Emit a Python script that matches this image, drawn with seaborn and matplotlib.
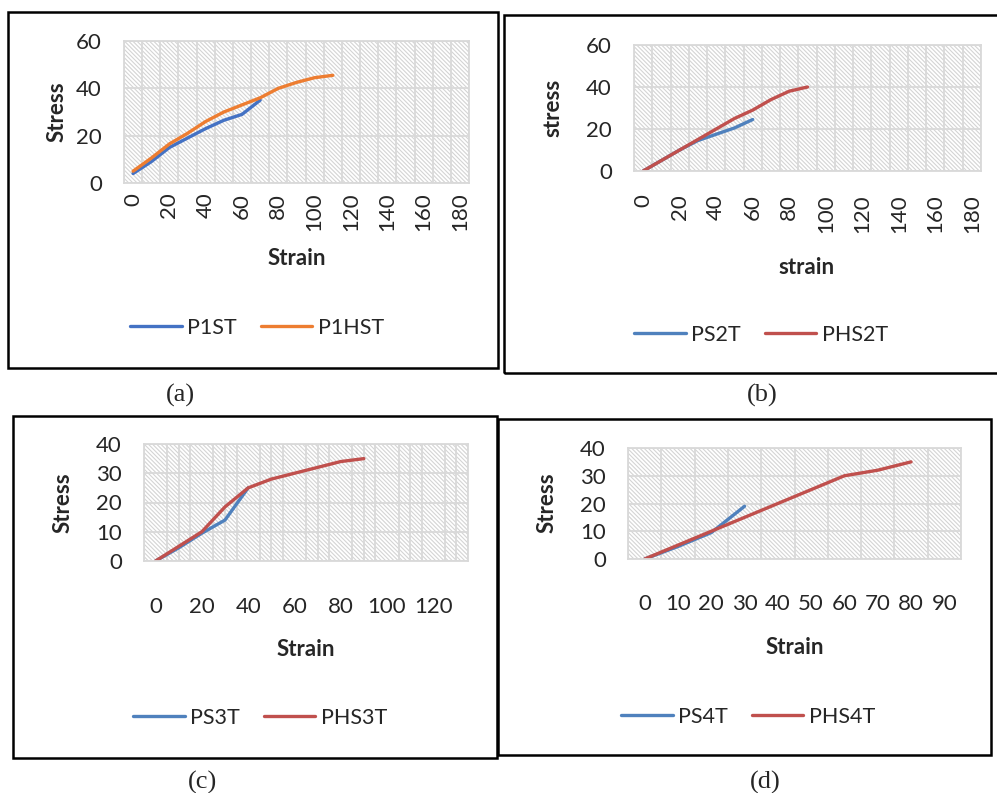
import numpy as np
import pandas as pd
import matplotlib.pyplot as plt
from matplotlib.patches import Rectangle
import seaborn as sns

sns.set_style("white")
plt.rcParams["font.family"] = ["Lato", "DejaVu Sans"]
plt.rcParams["hatch.linewidth"] = 0.8

W, H = 997, 793

# --- data ---
strain_a1 = [0, 10, 20, 30, 40, 50, 60, 70]
p1st = [4, 9, 15, 19, 23, 26.5, 29, 35]
strain_a2 = [0, 10, 20, 30, 40, 50, 60, 70, 80, 90, 100, 110]
p1hst = [5, 10.5, 16.5, 21, 26, 30, 33, 36, 40, 42.5, 44.5, 45.5]

strain_b1 = [0, 10, 20, 30, 40, 50, 60]
ps2t = [0, 5, 10, 14.5, 17.5, 20.5, 24.5]
strain_b2 = [0, 10, 20, 30, 40, 50, 60, 70, 80, 90]
phs2t = [0, 5, 10, 15, 20, 25, 29, 34, 38, 40]

strain_c1 = [0, 10, 20, 30, 40]
ps3t = [0, 4.5, 9.5, 14, 25]
strain_c2 = [0, 10, 20, 30, 40, 50, 60, 70, 80, 90]
phs3t = [0, 5, 10, 18.5, 25, 28, 30, 32, 34, 35]

strain_d1 = [0, 10, 20, 30]
ps4t = [0, 4.5, 9.5, 19]
strain_d2 = [0, 10, 20, 30, 40, 50, 60, 70, 80]
phs4t = [0, 5, 10, 15, 20, 25, 30, 32, 35]

blue_a, orange_a = "#4472C4", "#ED7D31"
blue, red = "#4F81BD", "#C0504D"
grid_c = "#d9d9d9"
hatch_c = "#d4d4d4"

fig = plt.figure(figsize=(W / 100, H / 100), dpi=100)


def px_rect(x0, y0, x1, y1):
    return [x0 / W, 1 - y1 / H, (x1 - x0) / W, (y1 - y0) / H]


def box(x0, y0, x1, y1):
    fig.patches.append(Rectangle((x0 / W, 1 - y1 / H), (x1 - x0) / W, (y1 - y0) / H,
                                 transform=fig.transFigure, fill=False,
                                 edgecolor="black", linewidth=1.8))


def panel(rect, series, xmax, xstep, ymax, ystep, gstep, xlabel, ylabel,
          rot, xpad, lab_px, leg_px):
    x0, y0, x1, y1 = rect
    ax = fig.add_axes(px_rect(x0, y0, x1, y1))
    ax.add_patch(Rectangle((0, 0), 1, 1, transform=ax.transAxes, facecolor="white",
                           edgecolor=hatch_c, hatch="\\" * 8, linewidth=0, zorder=0))
    for xs, ys, col, name in series:
        df = pd.DataFrame({"Strain": xs, "Stress": ys})
        sns.lineplot(data=df, x="Strain", y="Stress", ax=ax, color=col,
                     linewidth=2.4, label=name)
    ax.set_xlim(-5, xmax + 5)
    ax.set_ylim(0, ymax)
    ax.set_xticks(np.arange(0, xmax + 1, xstep))
    ax.set_xticks(np.arange(-5, xmax + 6, gstep), minor=True)
    ax.set_yticks(np.arange(0, ymax + 1, ystep))
    ax.set_axisbelow(True)
    ax.grid(which="minor", axis="x", color=grid_c, linewidth=1.3)
    ax.grid(which="major", axis="y", color=grid_c, linewidth=1.3)
    ax.grid(which="major", axis="x", visible=False)
    for s in ax.spines.values():
        s.set_color(grid_c)
        s.set_linewidth(1.3)
    ax.tick_params(axis="both", which="both", length=0, labelsize=16)
    ax.tick_params(axis="y", pad=16)
    ax.tick_params(axis="x", pad=xpad, labelrotation=rot)
    # axis titles placed at pixel positions
    (xlx, xly), (ylx, yly) = lab_px
    ax.set_xlabel(xlabel, fontsize=16, fontweight="bold", va="center")
    ax.set_ylabel(ylabel, fontsize=16, fontweight="bold", va="center")
    ax.xaxis.set_label_coords((xlx - x0) / (x1 - x0), (y1 - xly) / (y1 - y0))
    ax.yaxis.set_label_coords((ylx - x0) / (x1 - x0), (y1 - yly) / (y1 - y0))
    lx, ly = leg_px
    ax.legend(loc="center", ncol=2, frameon=False, fontsize=15.5,
              handlelength=2.4, handletextpad=0.25, columnspacing=1.1,
              bbox_to_anchor=((lx - x0) / (x1 - x0), (y1 - ly) / (y1 - y0)))
    return ax


# outer frames
box(8, 12, 498, 368)
box(504, 15, 1004, 373)
box(13, 416, 497, 758)
box(498, 419, 991, 755)

panel((124, 41, 469, 183),
      [(strain_a1, p1st, blue_a, "P1ST"), (strain_a2, p1hst, orange_a, "P1HST")],
      180, 20, 60, 20, 10, "Strain", "Stress", 90, 7,
      ((297, 259), (57, 112)), (257, 328))

panel((634, 45, 981, 171),
      [(strain_b1, ps2t, blue, "PS2T"), (strain_b2, phs2t, red, "PHS2T")],
      180, 20, 60, 20, 10, "strain", "stress", 90, 17,
      ((807, 267), (553, 108)), (761, 335))

panel((144, 444, 468, 561),
      [(strain_c1, ps3t, blue, "PS3T"), (strain_c2, phs3t, red, "PHS3T")],
      130, 20, 40, 10, 5, "Strain", "Stress", 0, 26,
      ((306, 650), (63, 503)), (260, 718))

panel((628, 448, 961, 559),
      [(strain_d1, ps4t, blue, "PS4T"), (strain_d2, phs4t, red, "PHS4T")],
      90, 10, 40, 10, 5, "Strain", "Stress", 0, 25,
      ((795, 648), (547, 503)), (748, 717))

# panel captions
for cap, cx, cy in [("(a)", 180, 395), ("(b)", 762, 395),
                    ("(c)", 202, 782), ("(d)", 765, 782)]:
    fig.text(cx / W, 1 - cy / H, cap, ha="center", va="center",
             fontsize=19, family="Liberation Serif")

fig.savefig("out.png", dpi=100)
